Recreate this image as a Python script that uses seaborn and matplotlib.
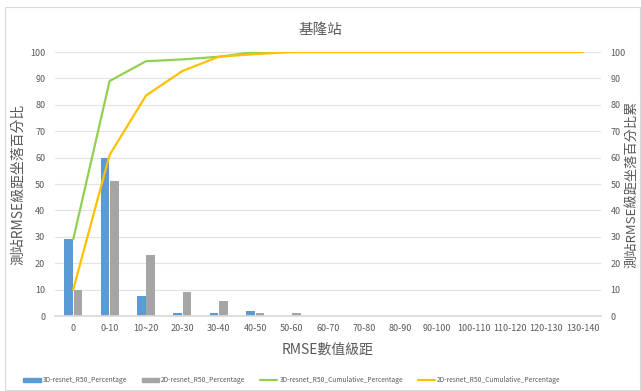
import matplotlib
matplotlib.use("Agg")
import matplotlib.pyplot as plt
import seaborn as sns
import pandas as pd
from matplotlib.patches import Rectangle, Patch
from matplotlib.lines import Line2D

categories = ["0", "0-10", "10~20", "20-30", "30-40", "40-50", "50-60", "60-70",
              "70-80", "80-90", "90-100", "100-110", "110-120", "120-130", "130-140"]
pct_3d = [29, 60, 7.5, 1, 1, 2, 0, 0, 0, 0, 0, 0, 0, 0, 0]
pct_2d = [10, 51, 23, 9, 5.5, 1, 1, 0, 0, 0, 0, 0, 0, 0, 0]
cum_3d = [29, 89, 96.5, 97.2, 98.2, 100, 100, 100, 100, 100, 100, 100, 100, 100, 100]
cum_2d = [10, 61, 83.5, 92.8, 98.2, 99.2, 100, 100, 100, 100, 100, 100, 100, 100, 100]
series_names = ["3D-resnet_R50_Percentage", "2D-resnet_R50_Percentage",
                "3D-resnet_R50_Cumulative_Percentage", "2D-resnet_R50_Cumulative_Percentage"]
colors = ["#5B9BD5", "#A5A5A5", "#92D050", "#FFC000"]

sns.set_theme(style="white")
plt.rcParams['font.family'] = ['Noto Sans CJK TC', 'DejaVu Sans']

bar_df = pd.DataFrame({
    "cat": categories * 2,
    "val": pct_3d + pct_2d,
    "series": [series_names[0]] * len(categories) + [series_names[1]] * len(categories),
})
line_df = pd.DataFrame({
    "cat": categories * 2,
    "val": cum_3d + cum_2d,
    "series": [series_names[2]] * len(categories) + [series_names[3]] * len(categories),
})

fig = plt.figure(figsize=(6.41, 3.91), dpi=100)
ax = fig.add_axes([55/641, 1-316/391, (601-55)/641, (316-52)/391])

sns.barplot(data=bar_df, x="cat", y="val", hue="series", order=categories,
            palette=colors[:2], width=0.52, gap=0.08, ax=ax, legend=False,
            saturation=1, linewidth=0)
ax.set_xlim(-0.5, len(categories) - 0.5)
ax.set_ylim(0, 100)
ax.set_yticks(range(0, 101, 10))
ax.yaxis.grid(True, color="#E3E3E3", linewidth=0.8)
ax.set_axisbelow(True)
for s in ["top", "right", "left"]:
    ax.spines[s].set_visible(False)
ax.spines["bottom"].set_color("#D9D9D9")
ax.tick_params(axis="both", length=0, labelsize=6.5, colors="#595959")
ax.tick_params(axis="y", pad=7)
ax.tick_params(axis="x", pad=6)
ax.set_xlabel("RMSE數值級距", fontsize=10, color="#595959", labelpad=7)
ax.set_ylabel("測站RMSE級距坐落百分比", fontsize=10, color="#595959")
ax.yaxis.set_label_coords((25 - 55) / 546, 0.5)

ax2 = ax.twinx()
sns.lineplot(data=line_df, x="cat", y="val", hue="series", palette=colors[2:],
             ax=ax2, legend=False, linewidth=1.6, sort=False)
ax2.set_xlim(-0.5, len(categories) - 0.5)
ax2.set_ylim(0, 100)
ax2.set_yticks(range(0, 101, 10))
for s in ["top", "right", "left", "bottom"]:
    ax2.spines[s].set_visible(False)
ax2.tick_params(axis="y", length=0, labelsize=6.5, colors="#595959", pad=7)
ax2.set_ylabel("測站RMSE級距坐落百分比累", fontsize=9.5, color="#595959")
ax2.yaxis.set_label_coords((625 - 55) / 546, 0.5)
ax2.set_xlabel("")

fig.text(0.5, 1-30/391, "基隆站", ha="center", va="center", fontsize=10.5, color="#595959")

handles = [Patch(color=colors[0]), Patch(color=colors[1]),
           Line2D([], [], color=colors[2], linewidth=1.6),
           Line2D([], [], color=colors[3], linewidth=1.6)]
fig.legend(handles, series_names, loc="center", bbox_to_anchor=(292/641, 1-380/391),
           ncol=4, frameon=False, fontsize=4.8, labelcolor="#595959",
           handlelength=2.6, handleheight=0.6, columnspacing=2.2, handletextpad=0.3)

fig.add_artist(Rectangle((5/641, 1/391), 635/641, (383)/391, transform=fig.transFigure,
                         fill=False, edgecolor="#D9D9D9", linewidth=0.8))

fig.savefig("out.png", dpi=100)
